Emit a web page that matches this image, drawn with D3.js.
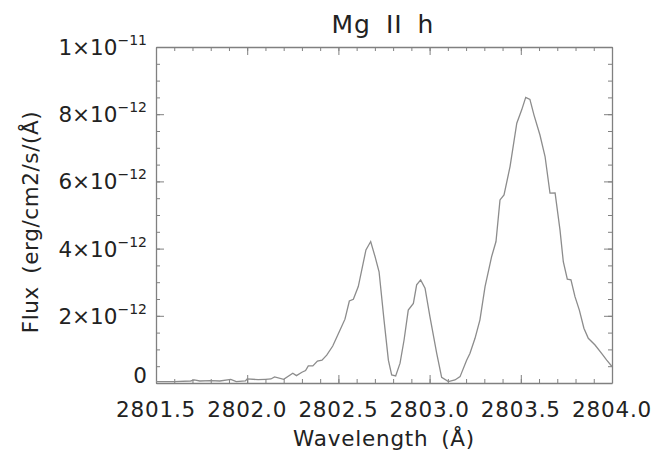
<!DOCTYPE html>
<html>
<head>
<meta charset="utf-8">
<script src="https://cdn.jsdelivr.net/npm/d3@7"></script>
<style>
  body { margin: 0; background: #fff; }
  text { font-family: "DejaVu Sans", sans-serif; fill: #222; }
</style>
</head>
<body>
<div id="graph"></div>
<script>
// Spectrum (flux in units of 1e-12 erg/cm2/s/A)
var wavelength = [
  2801.50, 2801.60, 2801.69, 2801.71, 2801.74, 2801.80, 2801.85, 2801.91, 2801.94, 2801.99,
  2802.00, 2802.06, 2802.10, 2802.13, 2802.15, 2802.20, 2802.25, 2802.27, 2802.30, 2802.32,
  2802.335, 2802.36, 2802.385, 2802.41, 2802.436, 2802.469, 2802.509, 2802.536, 2802.560, 2802.582,
  2802.609, 2802.651, 2802.677, 2802.701, 2802.723, 2802.750, 2802.774, 2802.792, 2802.814, 2802.838,
  2802.860, 2802.883, 2802.911, 2802.929, 2802.951, 2802.975, 2803.002, 2803.039, 2803.066, 2803.103,
  2803.139, 2803.167, 2803.203, 2803.221, 2803.249, 2803.276, 2803.304, 2803.340, 2803.364, 2803.386,
  2803.408, 2803.441, 2803.478, 2803.505, 2803.527, 2803.550, 2803.572, 2803.605, 2803.633, 2803.660,
  2803.688, 2803.715, 2803.733, 2803.755, 2803.775, 2803.797, 2803.821, 2803.846, 2803.870, 2803.907,
  2803.943, 2803.971, 2804.000
];
var flux = [
  0.04, 0.04, 0.06, 0.09, 0.06, 0.07, 0.06, 0.11, 0.04, 0.06,
  0.12, 0.10, 0.11, 0.12, 0.18, 0.11, 0.29, 0.22, 0.32, 0.37,
  0.51, 0.51, 0.65, 0.68, 0.83, 1.10, 1.58, 1.90, 2.44, 2.49,
  2.87, 3.96, 4.21, 3.76, 3.31, 1.88, 0.68, 0.24, 0.21, 0.59,
  1.28, 2.17, 2.37, 2.92, 3.07, 2.82, 1.97, 0.88, 0.17, 0.04,
  0.09, 0.19, 0.68, 0.88, 1.33, 1.88, 2.87, 3.76, 4.21, 5.45,
  5.60, 6.44, 7.73, 8.13, 8.50, 8.44, 7.98, 7.38, 6.74, 5.65,
  5.66, 4.55, 3.61, 3.09, 3.07, 2.57, 2.17, 1.63, 1.33, 1.13,
  0.88, 0.68, 0.49
];

var xTicks = [2801.5, 2802.0, 2802.5, 2803.0, 2803.5, 2804.0];
var xTickLabels = ['2801.5', '2802.0', '2802.5', '2803.0', '2803.5', '2804.0'];
var yTicks = [0, 2, 4, 6, 8, 10];
var yTickLabels = [['0', ''], ['2\u00d710', '\u221212'], ['4\u00d710', '\u221212'],
                   ['6\u00d710', '\u221212'], ['8\u00d710', '\u221212'], ['1\u00d710', '\u221211']];

var titleText  = 'Mg II h';
var xLabelText = 'Wavelength (\u00c5)';
var yLabelText = 'Flux (erg/cm2/s/(\u00c5)';

// Size of the page and plot box
var overallWidth  = 655;
var overallHeight = 454;
var margin = { top: 47, right: 43, bottom: 71, left: 156 };
var width  = overallWidth - margin.left - margin.right;
var height = overallHeight - margin.top - margin.bottom;

var axisColour = '#808080';
var lineColour = '#8c8c8c';

var svg = d3.select('#graph').append('svg')
            .attr('width', overallWidth)
            .attr('height', overallHeight);

var g = svg.append('g')
           .attr('transform', 'translate(' + margin.left + ',' + margin.top + ')');

var x = d3.scaleLinear().domain([2801.5, 2804.0]).range([0, width]);
var y = d3.scaleLinear().domain([0, 10]).range([height, 0]);

var minorX = d3.range(28015, 28041).map(function (d) { return d / 10; });
var minorY = d3.range(0, 21).map(function (d) { return d / 2; });

// IDL style box: ticks pointing in on all four sides
var makeAxis = [
  function () { return d3.axisBottom(x); },
  function () { return d3.axisTop(x); },
  function () { return d3.axisLeft(y); },
  function () { return d3.axisRight(y); }
];
var shifts = ['translate(0,' + height + ')', 'translate(0,0)', 'translate(0,0)', 'translate(' + width + ',0)'];

makeAxis.forEach(function (mk, i) {
  var isX = i < 2;
  var minor = isX ? minorX : minorY;
  var major = isX ? xTicks : yTicks;

  // minor ticks
  g.append('g')
   .attr('transform', shifts[i])
   .call(mk().tickValues(minor).tickSize(-4).tickFormat(''))
   .call(function (s) { s.select('.domain').remove(); })
   .selectAll('line').attr('stroke', axisColour).attr('stroke-width', 1);

  // major ticks + the domain line
  var sg = g.append('g')
   .attr('transform', shifts[i])
   .call(mk().tickValues(major).tickSizeInner(-8).tickSizeOuter(0).tickFormat(''));
  sg.selectAll('line').attr('stroke', axisColour).attr('stroke-width', 1);
  sg.select('.domain').attr('stroke', axisColour).attr('stroke-width', 1.3);
});

// x tick labels
g.selectAll('.xlab')
 .data(xTicks)
 .enter().append('text')
 .attr('class', 'xlab')
 .attr('x', function (d) { return x(d); })
 .attr('y', height + 34)
 .attr('text-anchor', 'middle')
 .style('font-size', '21.5px')
 .style('letter-spacing', '0.8px')
 .text(function (d, i) { return xTickLabels[i]; });

// y tick labels, with raised exponents
var yl = g.selectAll('.ylab')
 .data(yTicks)
 .enter().append('text')
 .attr('class', 'ylab')
 .attr('x', -9)
 .attr('y', function (d) { return y(d) + (d === 0 ? 0 : 8); })
 .attr('text-anchor', 'end')
 .style('font-size', '21.5px');

yl.append('tspan').text(function (d, i) { return yTickLabels[i][0]; });
yl.append('tspan')
  .attr('dy', -10)
  .style('font-size', '14px')
  .text(function (d, i) { return yTickLabels[i][1]; });

// spectrum line
var line = d3.line()
             .x(function (d, i) { return x(wavelength[i]); })
             .y(function (d) { return y(d); });

g.append('path')
 .datum(flux)
 .attr('d', line)
 .attr('fill', 'none')
 .attr('stroke', lineColour)
 .attr('stroke-width', 1.3);

// title and axis titles
svg.append('text')
   .attr('x', margin.left + width / 2 - 1)
   .attr('y', 33)
   .attr('text-anchor', 'middle')
   .style('font-size', '25px')
   .style('letter-spacing', '1px')
   .style('word-spacing', '6px')
   .text(titleText);

svg.append('text')
   .attr('x', margin.left + width / 2)
   .attr('y', 446)
   .attr('text-anchor', 'middle')
   .style('font-size', '21.5px')
   .style('letter-spacing', '0.8px')
   .style('word-spacing', '5px')
   .text(xLabelText);

svg.append('text')
   .attr('transform', 'translate(38,222) rotate(-90)')
   .attr('text-anchor', 'middle')
   .style('font-size', '21.5px')
   .style('letter-spacing', '0.6px')
   .style('word-spacing', '5px')
   .text(yLabelText);
</script>
</body>
</html>
